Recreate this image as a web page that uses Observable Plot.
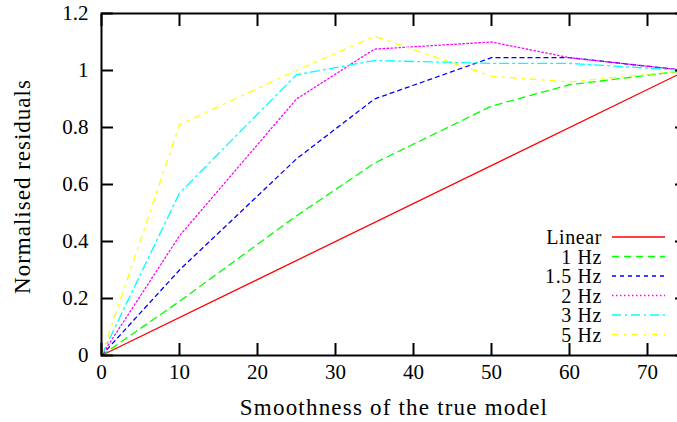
<!DOCTYPE html>
<html>
<head>
<meta charset="utf-8">
<script src="https://cdn.jsdelivr.net/npm/d3@7"></script>
<script src="https://cdn.jsdelivr.net/npm/@observablehq/plot@0.6"></script>
<style>
  html, body { margin: 0; padding: 0; background: #fff; overflow: hidden; }
  #wrap { position: relative; width: 677px; height: 422px; }
  #legend { position: absolute; left: 0; top: 0; pointer-events: none; }
</style>
</head>
<body>
<div id="wrap"></div>
<script>
// Smoothness values at which each residual curve was sampled
const smoothness = [0, 10, 25, 35, 50, 60, 75];

// Straight reference line
const linearX = [0, 75];
const linearY = [0, 1];

// Normalised residuals per source frequency
const hz1   = [0, 0.19, 0.49, 0.675, 0.875, 0.95, 1.0];
const hz1_5 = [0, 0.30, 0.69, 0.90, 1.045, 1.045, 1.0];
const hz2   = [0, 0.42, 0.90, 1.075, 1.10, 1.045, 1.0];
const hz3   = [0, 0.57, 0.985, 1.035, 1.025, 1.025, 1.0];
const hz5   = [0, 0.81, 1.0, 1.12, 0.98, 0.96, 1.0];

const seriesNames = ["Linear", "1 Hz", "1.5 Hz", "2 Hz", "3 Hz", "5 Hz"];

// Axis ticks and labels
const xTicks = [0, 10, 20, 30, 40, 50, 60, 70];
const yTicks = [0, 0.2, 0.4, 0.6, 0.8, 1, 1.2];
const yTickLabels = ["0", "0.2", "0.4", "0.6", "0.8", "1", "1.2"];
const xTitle = "Smoothness of the true model";
const yTitle = "Normalised residuals";

// Line styles (gnuplot-like default colours and dash types)
const colors = ["#ff0000", "#00ff00", "#0000ff", "#ff00ff", "#00ffff", "#ffff00"];
const dashes = [null, "7,5", "4,4", "1.5,2.5", "9,4,2,4", "6,6,2,6"];

// Long-format table built from the arrays above
const rows = [];
linearX.forEach((x, i) => rows.push({series: seriesNames[0], x, y: linearY[i]}));
[hz1, hz1_5, hz2, hz3, hz5].forEach((vals, k) =>
  vals.forEach((y, i) => rows.push({series: seriesNames[k + 1], x: smoothness[i], y}))
);

const FONT = "'Liberation Serif', 'Times New Roman', serif";
const noText = () => "";

const lineMarks = seriesNames.map((name, k) =>
  Plot.line(rows.filter(d => d.series === name), {
    x: "x", y: "y",
    stroke: colors[k],
    strokeWidth: 1.3,
    strokeDasharray: dashes[k] ?? undefined
  })
);

const chart = Plot.plot({
  width: 677,
  height: 422,
  marginLeft: 101,
  marginRight: -9,
  marginTop: 13,
  marginBottom: 67,
  style: {fontFamily: FONT, background: "#fff", color: "#000"},
  x: {domain: [0, 75]},
  y: {domain: [0, 1.2]},
  marks: [
    ...lineMarks,
    Plot.frame({stroke: "#000", strokeWidth: 2}),
    // tick labels
    Plot.axisX(xTicks, {tickSize: 0, tickPadding: 9, tickFormat: d => String(d), label: null, fontSize: 21}),
    Plot.axisY(yTicks, {tickSize: 0, tickPadding: 13, tickFormat: d => yTickLabels[yTicks.indexOf(d)], label: null, fontSize: 21}),
    // inward tick marks on all four sides
    Plot.axisX(xTicks, {tickSize: 12, dy: -12, strokeWidth: 2, tickFormat: noText, label: null}),
    Plot.axisX(xTicks, {anchor: "top", tickSize: 12, dy: 12, strokeWidth: 2, tickFormat: noText, label: null}),
    Plot.axisY(yTicks, {tickSize: 12, dx: 12, strokeWidth: 2, tickFormat: noText, label: null}),
    Plot.axisY(yTicks, {anchor: "right", tickSize: 12, dx: -12, strokeWidth: 2, tickFormat: noText, label: null}),
    // axis titles
    Plot.text([xTitle], {frameAnchor: "bottom", dy: 52, lineAnchor: "middle", textAnchor: "middle", text: d => d, fontSize: 23, fill: "#000"}),
    Plot.text([yTitle], {frameAnchor: "left", dx: -79, dy: 2, rotate: -90, lineAnchor: "middle", textAnchor: "middle", text: d => d, fontSize: 23, fill: "#000"})
  ]
});

// Widen the axis titles a little
const titleSpacing = new Map([[xTitle, "1.2px"], [yTitle, "1px"]]);
d3.select(chart).selectAll("text")
  .filter(function () { return titleSpacing.has(this.textContent); })
  .style("letter-spacing", function () { return titleSpacing.get(this.textContent); });

const wrap = document.getElementById("wrap");
wrap.appendChild(chart);

// Key in the lower right corner of the plotting area
const legend = d3.select(wrap).append("svg")
  .attr("id", "legend")
  .attr("width", 677)
  .attr("height", 422);

const keyTop = 237, keyStep = 19.5, keyTextRight = 602, keyLine = [612, 665];
seriesNames.forEach((name, k) => {
  const cy = keyTop + k * keyStep;
  legend.append("text")
    .attr("x", keyTextRight)
    .attr("y", cy)
    .attr("dy", "0.35em")
    .attr("text-anchor", "end")
    .attr("font-family", FONT)
    .attr("font-size", 20)
    .style("letter-spacing", "0.6px")
    .attr("fill", "#000")
    .text(name);
  legend.append("line")
    .attr("x1", keyLine[0]).attr("x2", keyLine[1])
    .attr("y1", cy).attr("y2", cy)
    .attr("stroke", colors[k])
    .attr("stroke-width", 1.3)
    .attr("stroke-dasharray", dashes[k]);
});
</script>
</body>
</html>
